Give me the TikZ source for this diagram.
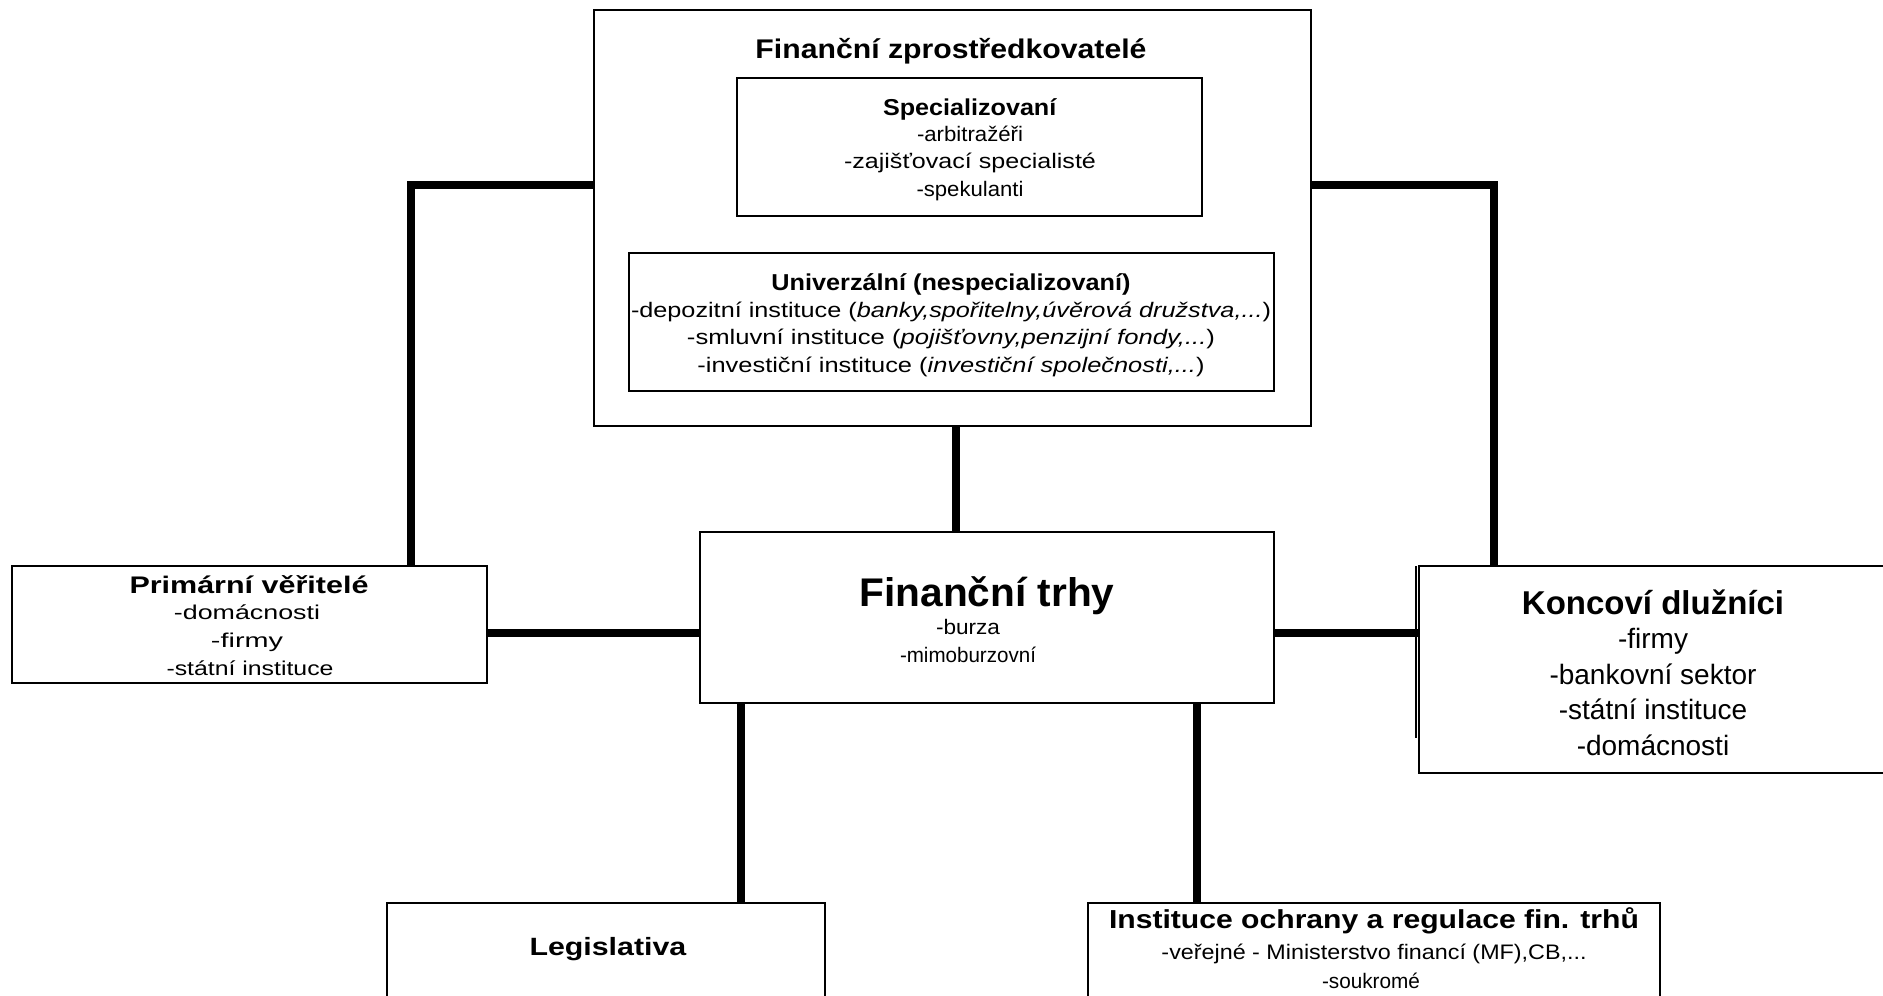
\documentclass[tikz,border=0pt]{standalone}
\usepackage{fontspec}
\setmainfont{Liberation Sans}
\usepackage{graphicx}
\newcommand{\fw}[2]{\resizebox{#1pt}{\height}{#2}}
\newcommand{\fs}[1]{\fontsize{#1pt}{#1pt}\selectfont}
\begin{document}
\begin{tikzpicture}[x=1pt,y=-1pt,
  box/.style={draw=black, line width=2pt, fill=white, outer sep=0pt, inner sep=0pt},
  conn/.style={line width=7.5pt, black},
  txt/.style={inner sep=0pt, outer sep=0pt, anchor=base}]
\useasboundingbox[fill=white] (0,0) rectangle (1883,996);
% boxes
\node[box, minimum width=717pt, minimum height=416pt] (fz) at (952.5,218) {};
\node[box, minimum width=465pt, minimum height=138pt] (spec) at (969.5,147) {};
\node[box, minimum width=645pt, minimum height=138pt] (univ) at (951.5,322) {};
\node[box, minimum width=574pt, minimum height=171pt] (trhy) at (987,617.5) {};
\node[box, minimum width=475pt, minimum height=117pt] (prim) at (249.5,624.5) {};
\node[box, minimum width=481pt, minimum height=207pt] (konc) at (1659.5,669.5) {};
\node[box, minimum width=438pt, minimum height=107pt] (leg) at (606,956.5) {};
\node[box, minimum width=572pt, minimum height=107pt] (inst) at (1374,956.5) {};
\draw[line width=1.5pt] (1416,566) -- (1416,738);
% helper coordinates
\coordinate (yL) at (0,185);
\coordinate (yM) at (0,633);
\coordinate (xL) at (411,0);
\coordinate (xR) at (1494,0);
\coordinate (xC) at (956,0);
\coordinate (xLL) at (741,0);
\coordinate (xII) at (1197,0);
% connectors
\draw[conn] (fz.west |- yL) -| (prim.north -| xL);
\draw[conn] (fz.east |- yL) -| (konc.north -| xR);
\draw[conn] (fz.south -| xC) -- (trhy.north -| xC);
\draw[conn] (prim.east |- yM) -- (trhy.west |- yM);
\draw[conn] (trhy.east |- yM) -- (konc.west |- yM);
\draw[conn] (trhy.south -| xLL) -- (leg.north -| xLL);
\draw[conn] (trhy.south -| xII) -- (inst.north -| xII);
% texts: baseline = visual centre + 0.36 * size
\node[txt] (fzt) at (951,58) {\fs{27}\fw{391}{\textbf{Finanční zprostředkovatelé}}};
\node[txt] (s0) at (970,115) {\fs{23}\fw{174}{\textbf{Specializovaní}}};
\node[txt] (s1) at (970,141) {\fs{21}\fw{106}{-arbitražéři}};
\node[txt] (s2) at (970,168) {\fs{21}\fw{252}{-zajišťovací specialisté}};
\node[txt] (s3) at (970,196) {\fs{21}\fw{107}{-spekulanti}};
\node[txt] (u0) at (951,290) {\fs{23}\fw{359}{\textbf{Univerzální (nespecializovaní)}}};
\node[txt] (u1) at (951,317) {\fs{21}\fw{640}{-depozitní instituce (\textit{banky,spořitelny,úvěrová družstva,...})}};
\node[txt] (u2) at (951,344) {\fs{21}\fw{528}{-smluvní instituce (\textit{pojišťovny,penzijní fondy,...})}};
\node[txt] (u3) at (951,372) {\fs{21}\fw{507}{-investiční instituce (\textit{investiční společnosti,...})}};
% Financni trhy
\node[txt] (t0) at (987,606) {\fs{40}\fw{255}{\textbf{Finanční trhy}}};
\node[txt] (t1) at (968,634) {\fs{21}\fw{64}{-burza}};
\node[txt] (t2) at (968,662) {\fs{21}\fw{136}{-mimoburzovní}};
% Primarni veritele
\node[txt] (p0) at (249,593) {\fs{24}\fw{239}{\textbf{Primární věřitelé}}};
\node[txt] (p1) at (247,619) {\fs{20}\fw{146}{-domácnosti}};
\node[txt] (p2) at (247,647) {\fs{20}\fw{72}{-firmy}};
\node[txt] (p3) at (250,675) {\fs{20}\fw{167}{-státní instituce}};
% Koncovi dluznici
\node[txt] (k0) at (1653,614) {\fs{33}\textbf{Koncoví dlužníci}};
\node[txt] (k1) at (1653,648) {\fs{28}-firmy};
\node[txt] (k2) at (1653,684) {\fs{28}-bankovní sektor};
\node[txt] (k3) at (1653,719) {\fs{28}-státní instituce};
\node[txt] (k4) at (1653,755) {\fs{28}-domácnosti};
% Legislativa
\node[txt] (l0) at (608,955) {\fs{25}\fw{157}{\textbf{Legislativa}}};
% Instituce
\node[txt] (i0) at (1374,928) {\fs{26}\fw{530}{\textbf{Instituce ochrany a regulace fin. trhů}}};
\node[txt] (i1) at (1374,959) {\fs{21}\fw{425}{-veřejné - Ministerstvo financí (MF),CB,...}};
\node[txt] (i2) at (1371,988) {\fs{21}\fw{98}{-soukromé}};
\end{tikzpicture}
\end{document}
